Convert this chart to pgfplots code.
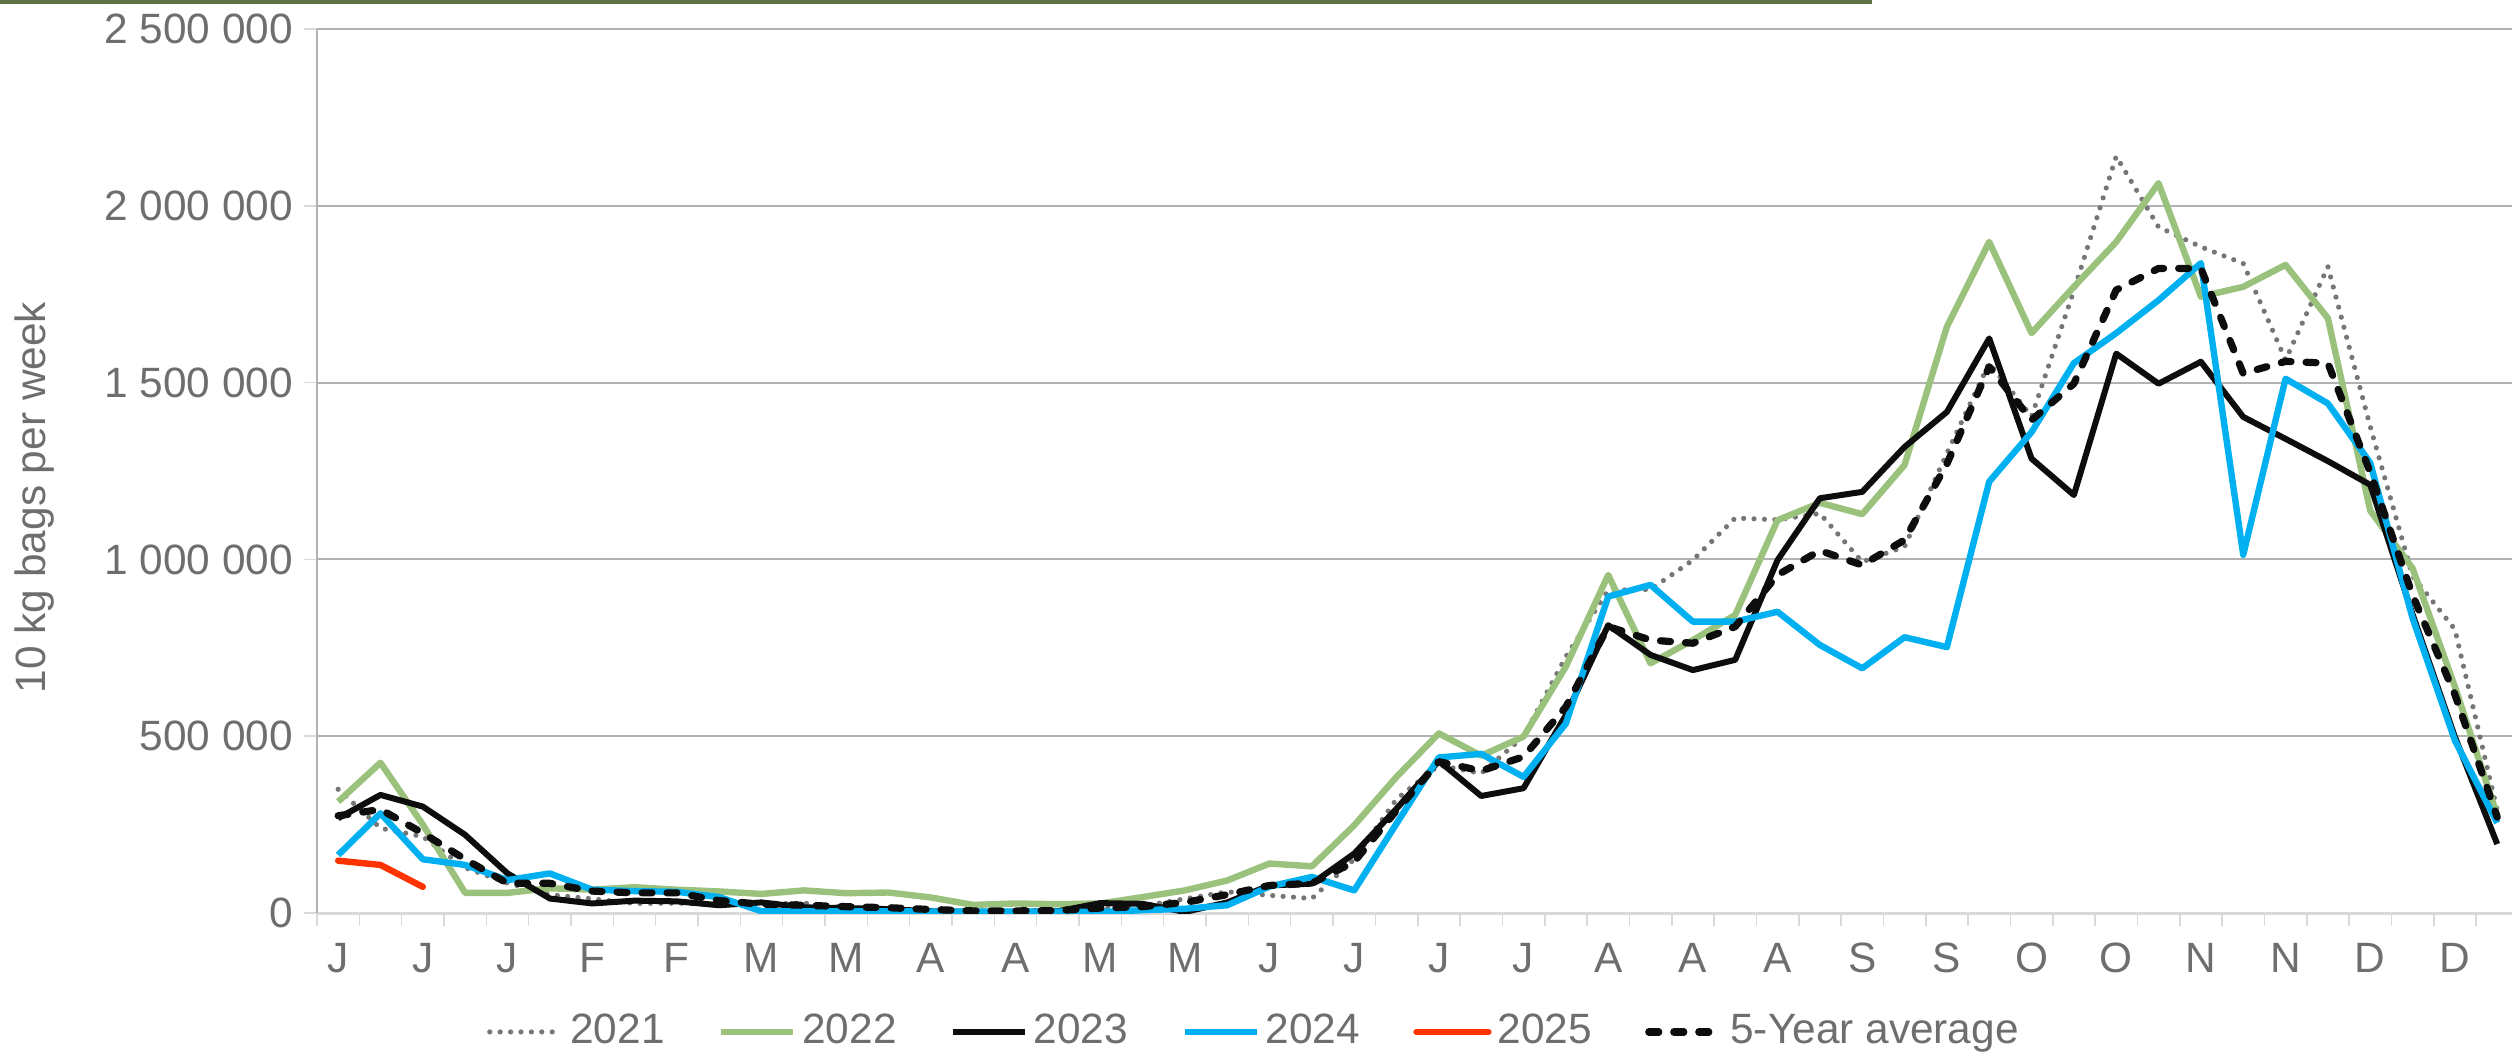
\documentclass[border=0pt]{standalone}
\usepackage{pgfplots}
\usepackage{pgfplotstable}
\pgfplotsset{compat=1.18}
\usepackage{fontspec}
\setmainfont{Liberation Sans}

\definecolor{txt}{RGB}{110,110,110}
\definecolor{c21}{RGB}{118,118,118}
\definecolor{c22}{RGB}{155,194,124}
\definecolor{c23}{RGB}{13,13,13}
\definecolor{c24}{RGB}{0,176,240}
\definecolor{c25}{RGB}{255,51,0}
\definecolor{gridc}{RGB}{178,178,178}
\definecolor{axc}{RGB}{217,217,217}
\definecolor{topc}{RGB}{94,116,72}
\newcommand\lbl{\fontsize{10.6}{12.7}\selectfont}

% weekly values, 10 kg bags
\pgfplotstableread{
w a21 a22 a23 a24 av
1 350000 315000 268000 164000 275000
2 240000 425000 334000 282000 293000
3 216000 250000 301000 152000 226000
4 128000 57000 221000 136000 152000
5 85000 57000 112000 93000 84000
6 52000 70000 41000 112000 84000
7 40000 66000 27000 66000 62000
8 27000 73000 35000 62000 57000
9 28000 66000 33000 60000 57000
10 25000 61000 22000 45000 35000
11 25000 54000 30000 5000 25000
12 28000 64000 16000 5000 22000
13 15000 56000 14000 5000 18000
14 10000 58000 11000 5000 15000
15 8000 44000 5000 4000 10000
16 6000 23000 3000 4000 6000
17 6000 27000 3000 4000 6000
18 8000 25000 5000 4000 7000
19 12000 27000 28000 3000 14000
20 20000 45000 26000 8000 18000
21 40000 64000 3000 12000 30000
22 60000 92000 30000 22000 52000
23 50000 140000 78000 75000 78000
24 41000 132000 83000 102000 84000
25 152000 248000 168000 64000 145000
26 322000 385000 295000 253000 290000
27 418000 508000 430000 440000 428000
28 395000 445000 331000 450000 402000
29 499000 499000 353000 385000 442000
30 725000 697000 560000 536000 583000
31 913000 956000 814000 895000 810000
32 915000 706000 730000 928000 772000
33 998000 772000 687000 824000 763000
34 1117000 843000 716000 824000 810000
35 1112000 1111000 998000 852000 956000
36 1130000 1160000 1173000 758000 1025000
37 993000 1128000 1191000 692000 984000
38 1036000 1267000 1318000 780000 1055000
39 1300000 1658000 1417000 752000 1270000
40 1555000 1898000 1625000 1220000 1545000
41 1404000 1640000 1285000 1360000 1394000
42 1760000 1771000 1182000 1555000 1497000
43 2140000 1898000 1582000 1640000 1762000
44 1940000 2064000 1497000 1733000 1823000
45 1884000 1743000 1559000 1838000 1823000
46 1837000 1771000 1403000 1013000 1526000
47 1564000 1833000 1341000 1511000 1560000
48 1828000 1682000 1278000 1441000 1555000
49 1376000 1138000 1211000 1273000 1246000
50 953000 975000 845000 834000 899000
51 802000 640000 498000 488000 618000
52 290000 276000 195000 255000 271000
}\data

\begin{document}
\begin{tikzpicture}
\useasboundingbox (-79.25pt,-35.25pt) rectangle (548.75pt,228.25pt);
\fill[topc] (-79.25pt,228.25pt) rectangle (388.75pt,227.2pt);
\begin{axis}[
    at={(0,0)}, anchor=south west,
    width=548.75pt, height=221pt, scale only axis,
    xmin=0.5, xmax=52.35,
    ymin=0, ymax=2500000,
    axis lines*=left,
    x axis line style={axc, line width=0.75pt},
    y axis line style={gridc, line width=0.4pt},
    ytick={0,500000,1000000,1500000,2000000,2500000},
    yticklabels={0,500 000,1 000 000,1 500 000,2 000 000,2 500 000},
    scaled y ticks=false,
    xtick={0.5,2.5,...,50.5},
    minor xtick={1.5,3.5,...,51.5},
    xticklabels={J,J,J,F,F,M,M,A,A,M,M,J,J,J,J,A,A,A,S,S,O,O,N,N,D,D},
    tick align=outside,
    major tick length=3.25pt, minor tick length=3.25pt,
    tick style={axc, line width=0.4pt},
    ymajorgrids, grid style={gridc, line width=0.5pt},
    xticklabel style={xshift=5.29pt, yshift=-0.8pt, font=\lbl, text=txt},
    yticklabel style={font=\lbl, text=txt, xshift=0.8pt},
    ylabel={10 kg bags per week},
    ylabel style={font=\lbl, text=txt, at={(axis description cs:-0.1285,0.47)}, anchor=center},
    legend columns=6,
    legend style={at={(axis description cs:0.4264,-0.1345)}, anchor=center, draw=none, fill=none,
        font=\lbl, text=txt, nodes={inner sep=0pt},
        /tikz/every odd column/.append style={column sep=1.5pt},
        /tikz/every even column/.append style={column sep=13.3pt}},
    legend image code/.code={\draw[#1] (0pt,0pt) -- (18pt,0pt);},
    every axis plot/.append style={mark=none, line join=round},
]
\addplot[c21, line width=1.3pt, dash pattern=on 0pt off 2.6pt, line cap=round] table[x=w,y=a21]{\data};
\addlegendentry{2021}
\addplot[c22, line width=1.6pt] table[x=w,y=a22]{\data};
\addlegendentry{2022}
\addplot[c23, line width=1.5pt] table[x=w,y=a23]{\data};
\addlegendentry{2023}
\addplot[c24, line width=1.6pt] table[x=w,y=a24]{\data};
\addlegendentry{2024}
\addplot[c25, line width=1.6pt, line cap=round] coordinates {(1,148000)(2,136000)(3,74000)};
\addlegendentry{2025}
\addplot[c23, line width=1.8pt, dash pattern=on 2.5pt off 3.75pt, line cap=round] table[x=w,y=av]{\data};
\addlegendentry{5-Year average}
\end{axis}
\end{tikzpicture}
\end{document}
